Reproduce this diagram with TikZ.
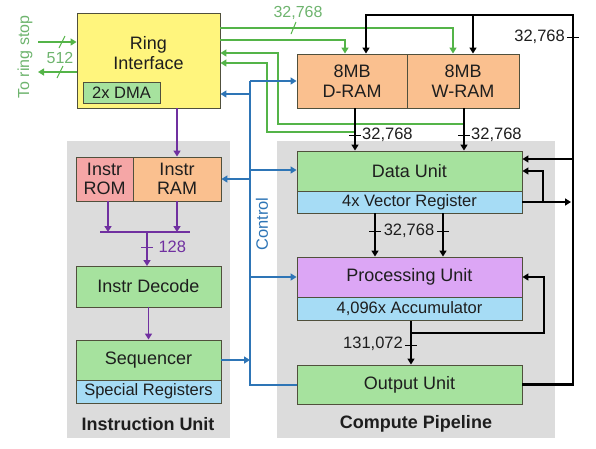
\documentclass[tikz,border=0pt]{standalone}
\usepackage{fontspec}
\setmainfont{Liberation Sans}
\usetikzlibrary{arrows.meta}
\definecolor{bgray}{RGB}{220,220,220}
\definecolor{fyel}{RGB}{255,245,125}
\definecolor{forange}{RGB}{250,192,143}
\definecolor{fpink}{RGB}{245,166,166}
\definecolor{fgreen}{RGB}{166,226,158}
\definecolor{fblue}{RGB}{166,220,245}
\definecolor{fpurp}{RGB}{220,166,245}
\definecolor{lgreen}{RGB}{84,180,72}
\definecolor{tgreen}{RGB}{110,180,110}
\definecolor{lblue}{RGB}{46,117,182}
\definecolor{lpurp}{RGB}{112,48,160}
\definecolor{bord}{RGB}{80,80,60}
\definecolor{txt}{RGB}{30,30,30}
\tikzset{
  box/.style={draw=bord, line width=0.9pt, inner sep=0pt, align=center, text=txt, font=\fontsize{18}{20.5}\selectfont},
  subbox/.style={box, font=\fontsize{16.5}{19}\selectfont},
  glin/.style={draw=lgreen, line width=2.4pt},
  blin/.style={draw=black, line width=2.4pt},
  ulin/.style={draw=lblue, line width=1.8pt},
  plin/.style={draw=lpurp, line width=1.8pt},
  tip/.style={-{Triangle[length=6pt,width=7pt]}},
  num/.style={font=\fontsize{16.5}{19}\selectfont, text=txt, inner sep=1pt},
  panel/.style={fill=bgray, draw=none},
  ptitle/.style={font=\bfseries\fontsize{18}{20}\selectfont, text=txt},
}
\begin{document}
\begin{tikzpicture}[x=1pt,y=-1pt]
\useasboundingbox (0,0) rectangle (596,448);
% panels
\fill[panel] (67,141) rectangle (230,438);
\fill[panel] (277,141) rectangle (555,438);
\node[ptitle] (iutitle) at (148,424) {Instruction Unit};
\node[ptitle] (cptitle) at (416,424) {Compute Pipeline};

% boxes
\node[box, fill=fyel, minimum width=143pt, minimum height=95pt] (ring) at (148.5,60.5) {};
\node[box, draw=none, fill=none] (ringtxt) at (148.5,53) {Ring\\[-1pt]Interface};
\node[subbox, fill=fgreen, minimum width=77pt, minimum height=21pt] (dma) at (121.5,92.5) {2x DMA};

\node[box, fill=forange, minimum width=110pt, minimum height=54pt] (dram) at (352,81) {8MB\\[-1pt]D-RAM};
\node[box, fill=forange, minimum width=112pt, minimum height=54pt] (wram) at (463,81) {8MB\\[-1pt]W-RAM};

\node[box, fill=fpink, minimum width=57pt, minimum height=44pt] (irom) at (104.5,179) {Instr\\[-1pt]ROM};
\node[box, fill=forange, minimum width=88pt, minimum height=44pt] (iram) at (177,179) {Instr\\[-1pt]RAM};
\node[box, fill=fgreen, minimum width=145pt, minimum height=41pt] (dec) at (148.5,286.5) {Instr Decode};
\node[box, fill=fgreen, minimum width=145pt, minimum height=40pt] (seq) at (148.5,360) {Sequencer};
\node[subbox, fill=fblue, minimum width=145pt, minimum height=23pt] (sreg) at (148.5,391.5) {Special Registers};

\node[box, fill=fgreen, minimum width=225pt, minimum height=40pt] (du) at (409.5,171) {Data Unit};
\node[subbox, fill=fblue, minimum width=225pt, minimum height=22pt] (vr) at (409.5,202) {4x Vector Register};
\node[box, fill=fpurp, minimum width=225pt, minimum height=40pt] (pu) at (409.5,277) {Processing Unit};
\node[subbox, fill=fblue, minimum width=225pt, minimum height=23pt] (acc) at (409.5,308.5) {4,096x Accumulator};
\node[box, fill=fgreen, minimum width=225pt, minimum height=39pt] (ou) at (409.5,384.5) {Output Unit};

% ring stop
\node[rotate=90, text=tgreen, font=\fontsize{16}{18}\selectfont] (rstop) at (25,57) {To ring stop};
\coordinate (rsin) at (38,42);
\coordinate (rsout) at (38,72);
\draw[glin, tip] (rsin) -- (rsin -| ring.west);
\draw[glin, tip] (rsout -| ring.west) -- (rsout);
\draw[draw=lgreen, line width=1pt] (59,48) -- (65,36);
\draw[draw=lgreen, line width=1pt] (57,78) -- (63,66);
\node[text=tgreen, font=\fontsize{16}{18}\selectfont] (w512) at (60,58) {512};

% green ring <-> RAM
\coordinate (g1) at (453,28);
\coordinate (g2) at (345,40);
\draw[glin, tip] (g1 -| ring.east) -- (g1) -- (g1 |- wram.north);
\draw[glin, tip] (g2 -| ring.east) -- (g2) -- (g2 |- dram.north);
\draw[draw=lgreen, line width=1pt] (291,34) -- (296,22);
\node[text=tgreen, font=\fontsize{16}{18}\selectfont] (w32g) at (298,13) {32,768};
\draw[glin, tip] (464,124) -- (278,124) -- (278,53) -- (ring.east |- 0,53);
\draw[glin, tip] (355,132) -- (267,132) -- (267,63) -- (ring.east |- 0,63);

% black RAM
\coordinate (tA) at (366,15);
\coordinate (tB) at (473,15);
\coordinate (tR) at (573,15);
\draw[blin, tip] (ou.east) -- (ou.east -| tR) -- (tR) -- (tA) -- (tA |- dram.north);
\draw[blin, tip] (tB) -- (tB |- wram.north);
\draw[blin, line width=1pt] (567,37) -- (579,37);
\node[num, anchor=east] (w32r) at (566,37) {32,768};
\draw[blin, tip] (573,159) -- (du.east |- 0,159);
\coordinate (d1) at (355,108);
\coordinate (d2) at (464,108);
\draw[blin, tip] (d1) -- (d1 |- du.north);
\draw[blin, tip] (d2) -- (d2 |- du.north);
\draw[blin, line width=1pt] (349,135) -- (361,135);
\draw[blin, line width=1pt] (458,135) -- (470,135);
\node[num, anchor=west] (w32d) at (361,135) {32,768};
\node[num, anchor=west] (w32w) at (470,135) {32,768};

% vector register loop
\draw[blin, tip] (vr.east) -- (571,202);
\draw[blin, tip] (543,202) -- (543,171) -- (du.east |- 0,171);

% data -> processing
\coordinate (p1) at (375,213);
\coordinate (p2) at (443,213);
\draw[blin, tip] (p1) -- (p1 |- pu.north);
\draw[blin, tip] (p2) -- (p2 |- pu.north);
\draw[blin, line width=1pt] (369,231) -- (381,231);
\draw[blin, line width=1pt] (437,231) -- (449,231);
\node[num] (w32m) at (409,231) {32,768};

% accumulator
\coordinate (a1) at (411,321);
\draw[blin, tip] (a1) -- (a1 |- ou.north);
\draw[blin, tip] (411,333) -- (544,333) -- (544,277) -- (pu.east);
\draw[blin, line width=1pt] (405,345) -- (417,345);
\node[num, anchor=east] (w131) at (404,344) {131,072};

% control
\coordinate (ct) at (250,81);
\coordinate (cb) at (250,385);
\draw[ulin] (ct) -- (cb) -- (ou.west |- cb);
\draw[ulin, tip] (ct) -- (dram.west |- ct);
\draw[ulin, tip] (250,94) -- (ring.east |- 0,94);
\draw[ulin, tip] (250,179) -- (iram.east);
\draw[ulin, tip] (250,170) -- (du.west |- 0,170);
\draw[ulin, tip] (250,277) -- (pu.west);
\draw[ulin, tip] (seq.east) -- (250,360);
\node[rotate=90, text=lblue, font=\fontsize{16.5}{18}\selectfont] (ctl) at (262,224) {Control};

% purple
\draw[plin, tip] (ring.south -| iram.north) -- (iram.north);
\draw[plin] (100,232) -- (190,232);
\draw[plin, tip] (irom.south -| 108,0) -- (108,232);
\draw[plin, tip] (iram.south) -- (177,232);
\draw[plin, tip] (147,232) -- (147,266);
\draw[plin, line width=1pt] (141,247) -- (153,247);
\node[text=lpurp, font=\fontsize{16.5}{18}\selectfont, anchor=west] (w128) at (155,247) {128};
\draw[plin, tip] (dec.south) -- (seq.north);
\end{tikzpicture}
\end{document}
